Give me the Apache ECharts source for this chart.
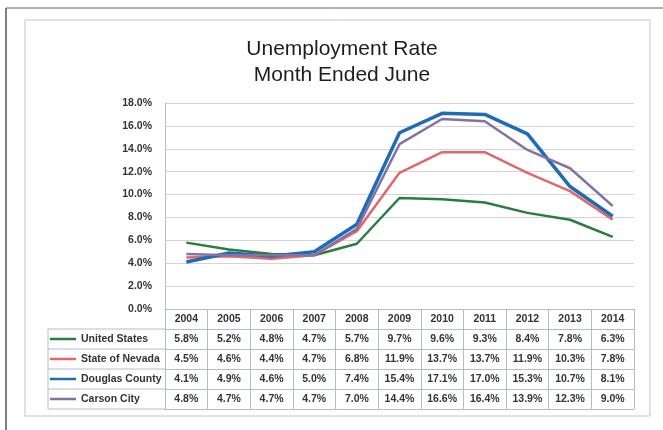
<!DOCTYPE html>
<html>
<head>
<meta charset="utf-8">
<script src="https://cdn.jsdelivr.net/npm/echarts@6/dist/echarts.min.js"></script>
<style>
  html, body { margin: 0; padding: 0; background: #fff; }
  #main { width: 663px; height: 430px; }
</style>
</head>
<body>
<div id="main"></div>
<script>
// data
const years = ['2004', '2005', '2006', '2007', '2008', '2009', '2010', '2011', '2012', '2013', '2014'];
const unitedStates = [5.8, 5.2, 4.8, 4.7, 5.7, 9.7, 9.6, 9.3, 8.4, 7.8, 6.3];
const stateOfNevada = [4.5, 4.6, 4.4, 4.7, 6.8, 11.9, 13.7, 13.7, 11.9, 10.3, 7.8];
const douglasCounty = [4.1, 4.9, 4.6, 5.0, 7.4, 15.4, 17.1, 17.0, 15.3, 10.7, 8.1];
const carsonCity = [4.8, 4.7, 4.7, 4.7, 7.0, 14.4, 16.6, 16.4, 13.9, 12.3, 9.0];

const seriesList = [
    { name: 'United States', data: unitedStates, color: '#2a7d3e', width: 2.5 },
    { name: 'State of Nevada', data: stateOfNevada, color: '#e0676a', width: 2.5 },
    { name: 'Douglas County', data: douglasCounty, color: '#1f6cb6', width: 3.5 },
    { name: 'Carson City', data: carsonCity, color: '#8572a4', width: 2.5 }
];

const font = "'Liberation Sans', Arial, sans-serif";
const gridLeft = 165, gridRight = 634, gridTop = 103, gridBottom = 309;
const rowH = 20;
const legendLeft = 48;
const borderColor = '#b4bccb';

// table: one x axis per row, labels carry the values
const xAxes = [];
xAxes.push({
    type: 'category',
    data: years,
    position: 'bottom',
    offset: 0,
    axisLine: { lineStyle: { color: borderColor, width: 1 } },
    axisTick: { show: true, length: rowH, lineStyle: { color: borderColor } },
    axisLabel: { margin: 5, color: '#333', fontFamily: font, fontWeight: 'bold', fontSize: 10.5 }
});
seriesList.forEach((s, i) => {
    xAxes.push({
        type: 'category',
        data: years,
        position: 'bottom',
        offset: rowH * (i + 1),
        axisLine: { lineStyle: { color: borderColor, width: 1 } },
        axisTick: { show: true, length: rowH, lineStyle: { color: borderColor } },
        axisLabel: {
            margin: 5, color: '#333', fontFamily: font, fontWeight: 'bold', fontSize: 10.5,
            formatter: (v, idx) => s.data[idx].toFixed(1) + '%'
        }
    });
});
xAxes.push({
    type: 'category',
    data: years,
    position: 'bottom',
    offset: rowH * 5,
    axisLine: { lineStyle: { color: borderColor, width: 1 } },
    axisTick: { show: false },
    axisLabel: { show: false }
});

// legend column borders
const legendGraphics = [];
for (let i = 1; i <= 5; i++) {
    legendGraphics.push({
        type: 'line',
        shape: { x1: legendLeft, y1: gridBottom + rowH * i, x2: gridLeft, y2: gridBottom + rowH * i },
        style: { stroke: borderColor, lineWidth: 1 }
    });
}
legendGraphics.push({
    type: 'line',
    shape: { x1: legendLeft, y1: gridBottom + rowH, x2: legendLeft, y2: gridBottom + rowH * 5 },
    style: { stroke: borderColor, lineWidth: 1 }
});

const chart = echarts.init(document.getElementById('main'));
chart.setOption({
    backgroundColor: '#fff',
    animation: false,
    title: {
        text: 'Unemployment Rate\nMonth Ended June',
        left: 337,
        textAlign: 'center',
        top: 31,
        textStyle: { fontFamily: font, fontWeight: 'normal', fontSize: 21, lineHeight: 26, color: '#1e1e1e' }
    },
    legend: {
        orient: 'vertical',
        left: legendLeft + 2,
        top: gridBottom + rowH + 3,
        padding: 0,
        itemWidth: 26,
        itemHeight: 2.5,
        itemGap: 6,
        icon: 'rect',
        textStyle: { fontFamily: font, fontWeight: 'bold', fontSize: 10.5, lineHeight: 14, color: '#333' },
        data: seriesList.map(s => s.name)
    },
    grid: {
        left: gridLeft,
        right: 663 - gridRight,
        top: gridTop,
        bottom: 430 - gridBottom,
        containLabel: false
    },
    xAxis: xAxes,
    yAxis: {
        type: 'value',
        min: 0,
        max: 18,
        interval: 2,
        axisLine: { show: true, lineStyle: { color: borderColor } },
        axisTick: { show: false },
        splitLine: { lineStyle: { color: '#d4d4d4', width: 1 } },
        axisLabel: {
            margin: 13, color: '#333', fontFamily: font, fontWeight: 'bold', fontSize: 10.5,
            formatter: v => v.toFixed(1) + '%'
        }
    },
    series: seriesList.map(s => ({
        name: s.name,
        type: 'line',
        xAxisIndex: 0,
        data: s.data,
        symbol: 'none',
        lineStyle: { color: s.color, width: s.width },
        itemStyle: { color: s.color }
    })),
    graphic: [
        // chart frame
        { type: 'rect', shape: { x: 25, y: 20, width: 625, height: 396 }, style: { fill: 'none', stroke: '#c4c4c4', lineWidth: 1 } },
        // scanned page edges
        { type: 'line', shape: { x1: 6, y1: 8, x2: 6, y2: 430 }, style: { stroke: '#555', lineWidth: 1.5 } },
        { type: 'line', shape: { x1: 6, y1: 8, x2: 663, y2: 8 }, style: { stroke: '#666', lineWidth: 1 } },
        ...legendGraphics
    ]
});
</script>
</body>
</html>
